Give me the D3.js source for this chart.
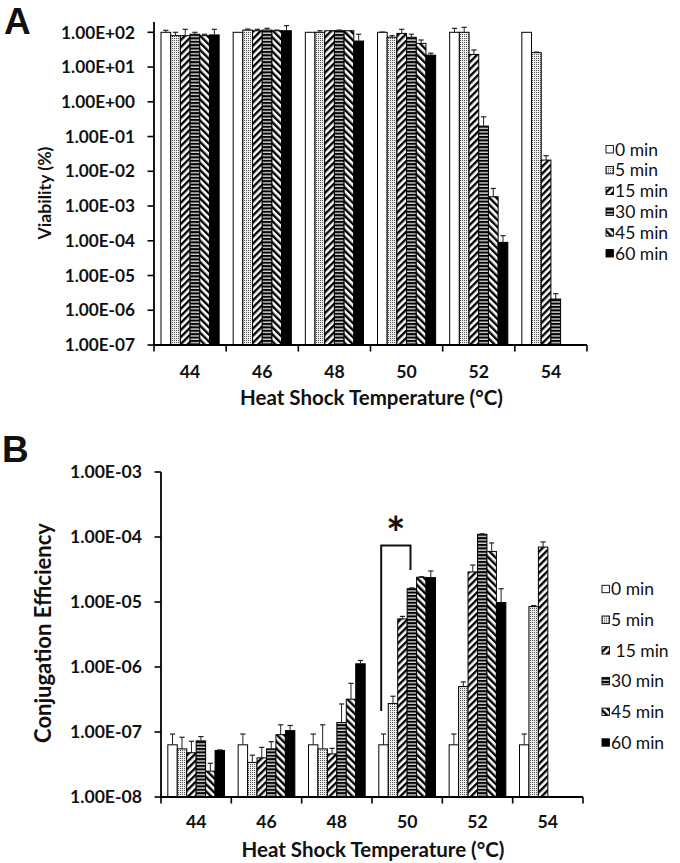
<!DOCTYPE html>
<html><head><meta charset="utf-8">
<script src="https://cdn.jsdelivr.net/npm/d3@7"></script>
<style>body{margin:0;background:#fff} svg{display:block} text{font-family:Lato,"Open Sans",sans-serif;fill:#111}</style>
</head><body><svg id="c" width="680" height="863"></svg>
<script>
// ---------- data ----------
const temps = ["44","46","48","50","52","54"];
const series = ["0 min","5 min","15 min","30 min","45 min","60 min"];
const legendLabelsB = ["0 min","5 min"," 15 min","30 min","45 min","60 min"];
// Panel A: viability (%) by series, across temps
const viab0  = [100,100,100,100,100,100];
const viab5  = [80,116,100,72,100,26];
const viab15 = [80,111,111,93,23,0.021];
const viab30 = [88,116,111,72,0.2,2.1e-6];
const viab45 = [80,111,111,48,1.85e-3,null];
const viab60 = [84,111,56,22,9e-5,null];
// upper ends of error bars
const viabErr0  = [114,100,100,102,130,100];
const viabErr5  = [100,124,111,80,139,27];
const viabErr15 = [122,122,111,122,31,0.028];
const viabErr30 = [100,130,116,88,0.37,3.0e-6];
const viabErr45 = [88,116,111,60,3.2e-3,null];
const viabErr60 = [122,155,88,25,1.4e-4,null];
// Panel B: conjugation efficiency
const conj0  = [6.35e-8,6.35e-8,6.35e-8,6.35e-8,6.35e-8,6.35e-8];
const conj5  = [5.5e-8,3.4e-8,5.5e-8,2.75e-7,5.0e-7,8.5e-6];
const conj15 = [4.8e-8,4.0e-8,4.6e-8,5.5e-6,2.9e-5,7.0e-5];
const conj30 = [7.3e-8,5.5e-8,1.4e-7,1.6e-5,1.1e-4,null];
const conj45 = [2.5e-8,9.1e-8,3.2e-7,2.4e-5,6.0e-5,null];
const conj60 = [5.2e-8,1.05e-7,1.12e-6,2.37e-5,9.8e-6,null];
const conjErr0  = [9.3e-8,9.3e-8,9.3e-8,9.3e-8,9.3e-8,9.3e-8];
const conjErr5  = [8.3e-8,4.4e-8,1.29e-7,3.55e-7,5.9e-7,8.8e-6];
const conjErr15 = [7.2e-8,5.8e-8,5.6e-8,6.0e-6,3.7e-5,8.4e-5];
const conjErr30 = [8.5e-8,7.1e-8,2.7e-7,1.65e-5,1.12e-4,null];
const conjErr45 = [3.3e-8,1.29e-7,5.6e-7,2.45e-5,8.1e-5,null];
const conjErr60 = [5.3e-8,1.26e-7,1.26e-6,3.0e-5,1.6e-5,null];
// significance bracket (temp, values)
const sigTemp = "50";
const sigLeftBottom = 2.1e-7, sigTop = 7.4e-5, sigRightBottom = 3.1e-5;

// ---------- setup ----------
const svg = d3.select("#c");
const defs = svg.append("defs");
function stripe(id, angle){
  const p = defs.append("pattern").attr("id",id).attr("patternUnits","userSpaceOnUse")
    .attr("width",5).attr("height",5).attr("patternTransform",`rotate(${angle})`);
  p.append("rect").attr("width",5).attr("height",5).attr("fill","#fff");
  p.append("rect").attr("width",2.4).attr("height",5).attr("fill","#000");
}
stripe("p15",45); stripe("p45",-45);
{
  const p = defs.append("pattern").attr("id","p5").attr("patternUnits","userSpaceOnUse").attr("width",2).attr("height",2);
  p.append("rect").attr("width",2).attr("height",2).attr("fill","#eee");
  p.append("rect").attr("width",1).attr("height",1).attr("fill","#555");
}
{
  const p = defs.append("pattern").attr("id","p30").attr("patternUnits","userSpaceOnUse").attr("width",4).attr("height",3.4);
  p.append("rect").attr("width",4).attr("height",3.4).attr("fill","#d4d4d4");
  p.append("rect").attr("width",4).attr("height",2).attr("fill","#000");
}
const fills = ["#fff","url(#p5)","url(#p15)","url(#p30)","url(#p45)","#000"];

function fmt(v){
  const e = Math.round(Math.log10(v));
  return "1.00E" + (e<0?"-":"+") + String(Math.abs(e)).padStart(2,"0");
}
function fitW(sel, target){
  const w = sel.node().getComputedTextLength();
  const fs = parseFloat(sel.attr("font-size"));
  const nf = fs*target/w;
  sel.attr("font-size", nf);
  return nf;
}

function panel(o){
  const g = svg.append("g");
  const x = d3.scaleBand().domain(temps).range(o.xr);
  const xi = d3.scaleBand().domain(series).range([0,x.bandwidth()]).paddingOuter(0.722);
  const y = d3.scaleLog().domain(o.yd).range(o.yr);
  const base = o.yr[0];
  const rows = [];
  series.forEach((s,si)=>o.vals[si].forEach((v,ti)=>{
    if(v!=null) rows.push({s,si,t:temps[ti],v,e:o.errs[si][ti]});
  }));
  const bw = xi.bandwidth();
  g.selectAll("rect.bar").data(rows).join("rect").attr("class","bar")
    .attr("x",d=>x(d.t)+xi(d.s)).attr("y",d=>y(d.v))
    .attr("width",bw).attr("height",d=>base-y(d.v))
    .attr("fill",d=>fills[d.si]).attr("stroke","#000").attr("stroke-width",1);
  const er = rows.filter(d=>d.e!=null && d.e>d.v*1.01);
  g.selectAll("line.err").data(er).join("line").attr("class","err")
    .attr("x1",d=>x(d.t)+xi(d.s)+bw/2).attr("x2",d=>x(d.t)+xi(d.s)+bw/2)
    .attr("y1",d=>y(d.v)).attr("y2",d=>y(d.e)).attr("stroke","#222").attr("stroke-width",1);
  g.selectAll("line.cap").data(er).join("line").attr("class","cap")
    .attr("x1",d=>x(d.t)+xi(d.s)+bw/2-2.6).attr("x2",d=>x(d.t)+xi(d.s)+bw/2+2.6)
    .attr("y1",d=>y(d.e)).attr("y2",d=>y(d.e)).attr("stroke","#222").attr("stroke-width",1.2);

  // y axis
  const x0 = o.xr[0];
  g.append("line").attr("x1",x0).attr("x2",x0).attr("y1",o.yTop).attr("y2",base+0.9)
    .attr("stroke","#000").attr("stroke-width",1.8);
  const lo = Math.round(Math.log10(o.yd[0])), hi = Math.round(Math.log10(o.yd[1]));
  const ticks = d3.range(lo,hi+1).map(e=>Math.pow(10,e));
  g.selectAll("line.yt").data(ticks).join("line").attr("class","yt")
    .attr("x1",x0-6.5).attr("x2",x0).attr("y1",d=>y(d)).attr("y2",d=>y(d))
    .attr("stroke","#000").attr("stroke-width",1.6);
  const yl = g.selectAll("text.yl").data(ticks).join("text").attr("class","yl")
    .attr("x",x0-19).attr("y",d=>y(d)).attr("dy","0.36em").attr("text-anchor","end")
    .attr("font-weight","bold").attr("font-size",16).text(fmt);
  const fsY = fitW(d3.select(yl.nodes()[yl.nodes().length-1]), o.yLabW);
  yl.attr("font-size",fsY);
  // x axis
  g.append("line").attr("x1",o.xr[0]-0.9).attr("x2",o.xr[1]).attr("y1",base).attr("y2",base)
    .attr("stroke","#000").attr("stroke-width",1.8);
  const bounds = temps.map(t=>x(t)).concat([o.xr[1]]);
  g.selectAll("line.xt").data(bounds).join("line").attr("class","xt")
    .attr("x1",d=>d).attr("x2",d=>d).attr("y1",base).attr("y2",base+6.5)
    .attr("stroke","#000").attr("stroke-width",1.6);
  const xl = g.selectAll("text.xl").data(temps).join("text").attr("class","xl")
    .attr("x",d=>x(d)+x.bandwidth()/2).attr("y",base+o.xlOff).attr("dy","0.36em")
    .attr("text-anchor","middle").attr("font-weight","bold").attr("font-size",17).text(d=>d);
  const fsX = fitW(d3.select(xl.nodes()[0]), 20.5);
  xl.attr("font-size",fsX);
  const xt = g.append("text").attr("x",(o.xr[0]+o.xr[1])/2 + 1).attr("y",base+o.xtOff).attr("dy","0.36em")
    .attr("text-anchor","middle").attr("font-weight","bold").attr("font-size",18)
    .text("Heat Shock Temperature (\u00B0C)");
  fitW(xt, 263);
  const yt = g.append("text").attr("transform",`translate(${o.ytX},${o.ytY}) rotate(-90)`)
    .attr("dy","0.36em").attr("text-anchor","middle").attr("font-weight","bold").attr("font-size",18)
    .text(o.yTitle);
  fitW(yt, o.ytW);
  // panel letter
  g.append("text").attr("x",o.letX).attr("y",o.letY)
    .style("font-family","'Liberation Sans',Arial,sans-serif")
    .attr("font-weight","bold").attr("font-size",37).text(o.letter);
  // legend
  const lg = g.append("g");
  const items = lg.selectAll("g").data(o.legLabels).join("g")
    .attr("transform",(d,i)=>`translate(${o.legX},${o.legY + i*o.legDy})`);
  items.append("rect").attr("x",0).attr("y",-3.7).attr("width",7.4).attr("height",7.4)
    .attr("fill",(d,i)=>fills[i]).attr("stroke","#000").attr("stroke-width",0.9);
  items.append("text").attr("x",o.legTx).attr("y",0).attr("dy","0.36em")
    .attr("font-size",o.legFs).style("white-space","pre").text(d=>d);
  return {g,x,xi,y};
}

panel({
  xr:[154,587], yd:[1e-7,1e2], yr:[345,32.3], yTop:22,
  vals:[viab0,viab5,viab15,viab30,viab45,viab60],
  errs:[viabErr0,viabErr5,viabErr15,viabErr30,viabErr45,viabErr60],
  yLabW:74, xlOff:27, xtOff:53, ytX:45, ytY:193, ytW:93, yTitle:"Viability (%)",
  letter:"A", letX:4, letY:34,
  legLabels:series, legX:606, legY:149.3, legDy:20.8, legTx:9, legFs:17.5
});
const B = panel({
  xr:[161,583], yd:[1e-8,1e-3], yr:[797,472], yTop:472,
  vals:[conj0,conj5,conj15,conj30,conj45,conj60],
  errs:[conjErr0,conjErr5,conjErr15,conjErr30,conjErr45,conjErr60],
  yLabW:72, xlOff:25, xtOff:53, ytX:43, ytY:633, ytW:220, yTitle:"Conjugation Efficiency",
  letter:"B", letX:2, letY:462,
  legLabels:legendLabelsB, legX:602, legY:589, legDy:30.7, legTx:9, legFs:17.5
});
// significance bracket
{
  const {g,x,xi,y} = B;
  const bw = xi.bandwidth();
  const lx = x(sigTemp)+xi(series[0])+bw*0.25;
  const rx = x(sigTemp)+xi(series[3])+bw*0.35;
  g.append("path").attr("d",`M${lx},${y(sigLeftBottom)}V${y(sigTop)}H${rx}V${y(sigRightBottom)}`)
    .attr("fill","none").attr("stroke","#111").attr("stroke-width",2);
  g.append("text").attr("x",(lx+rx)/2).attr("y",y(sigTop)+5).attr("text-anchor","middle")
    .attr("font-weight","bold").attr("font-size",46).text("*");
}
</script></body></html>
